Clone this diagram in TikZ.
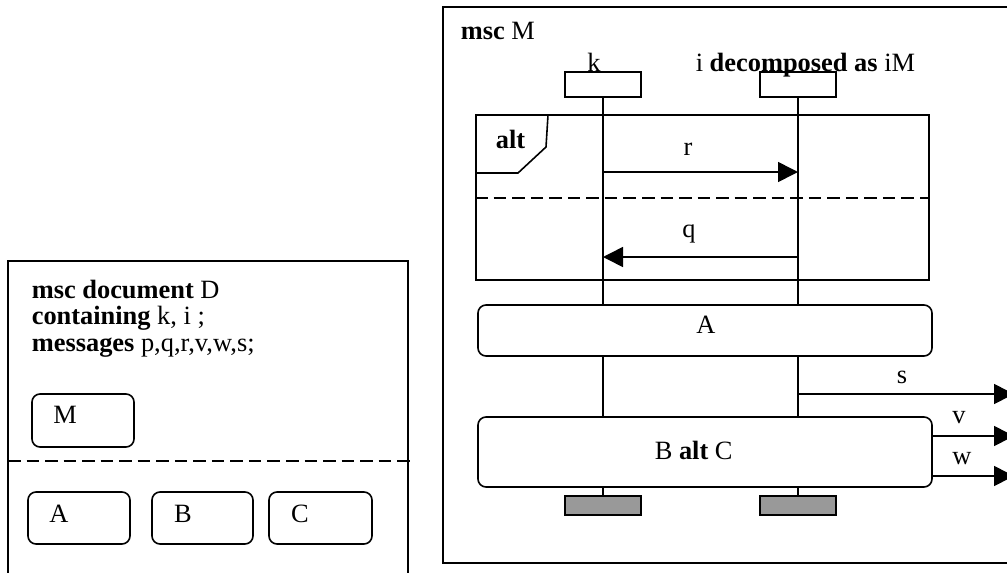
\documentclass[tikz,border=0pt]{standalone}
\usepackage{fontspec}
\setmainfont{Liberation Serif}
\usetikzlibrary{arrows.meta,fit}
\definecolor{endgray}{HTML}{999999}
\begin{document}
\begin{tikzpicture}[x=0.75pt,y=-0.75pt, line width=1.2pt,
  font=\fontsize{19.8}{19.9}\selectfont,
  box/.style={draw, rounded corners=6pt, inner sep=0pt, fill=white},
  plainbox/.style={draw, inner sep=0pt},
  endbox/.style={draw, fill=endgray, inner sep=0pt},
  lbl/.style={inner sep=0pt, anchor=base},
  lblw/.style={inner sep=0pt, anchor=base west},
  msg/.style={-{Triangle[length=15pt,width=15pt]}},
  sepline/.style={dash pattern=on 9.4pt off 4.5pt}]
\useasboundingbox (0,0) rectangle (1007,572);
\clip (0,0) rectangle (1007,572);

% ---------- left: msc document ----------
\draw (8,590) -- (8,261) -- (408,261) -- (408,590);
\draw[sepline] (8,461) -- (413,461);
\node[lblw] (t1) at (31,298) {\textbf{msc document} D};
\node[lblw] (t2) at (31,324.5) {\textbf{containing} k, i ;};
\node[lblw] (t3) at (31,351) {\textbf{messages} p,q,r,v,w,s;};

\node[box, fit={(32,394) (134,447)}] (dM) {};
\node[lbl] (dMt) at (65,423) {M};
\node[box, fit={(28,492) (130,544)}] (dA) {};
\node[lbl] (dAt) at (59,522) {A};
\node[box, fit={(152,492) (253,544)}] (dB) {};
\node[lbl] (dBt) at (183,522) {B};
\node[box, fit={(269,492) (372,544)}] (dC) {};
\node[lbl] (dCt) at (300,522) {C};

% ---------- right: msc M ----------
\node[plainbox, fit={(443,7) (1040,563)}] (frame) {};
\node[lblw] (mscM) at (460,39) {\textbf{msc} M};
\node[lbl] (kname) at (594,71) {k};
\node[lblw] (iname) at (695,71) {i \textbf{decomposed as} iM};

\node[plainbox, fit={(565,72) (641,97)}] (hk) {};
\node[plainbox, fit={(760,72) (836,97)}] (hi) {};
\node[endbox, fit={(565,496) (641,515)}] (ek) {};
\node[endbox, fit={(760,496) (836,515)}] (ei) {};

% lifelines
\draw (hk.south) -- (ek.north);
\draw (hi.south) -- (ei.north);

% alt inline expression
\node[plainbox, fit={(476,115) (929,280)}] (alt) {};
\draw (alt.west |- 0,173) -- (518,173) -- (546,147) -- (548,115);
\node[lblw] (altt) at (495,148) {\textbf{alt}};
\draw[sepline] (alt.west |- 0,198) -- (alt.east |- 0,198);

\coordinate (rk) at (603,172);
\coordinate (ri) at (798,172);
\draw[msg] (rk) -- (ri);
\node[lbl] (rl) at (688,155) {r};

\coordinate (qi) at (798,257);
\coordinate (qk) at (603,257);
\draw[msg] (qi) -- (qk);
\node[lbl] (ql) at (689,237) {q};

% references
\node[box, fit={(478,305) (932,356)}] (refA) {};
\node[lbl] (refAt) at (706,333) {A};

\coordinate (si) at (798,394);
\coordinate (se) at (1014,394);
\draw[msg] (si) -- (se);
\node[lbl] (sl) at (902,383) {s};

\node[box, fit={(478,417) (932,487)}] (refB) {};
\node[lblw] (refBt) at (654,459) {B \textbf{alt} C};

\coordinate (ve) at (1014,436);
\draw[msg] (refB.east |- ve) -- (ve);
\node[lbl] (vl) at (959,423) {v};

\coordinate (we) at (1014,476);
\draw[msg] (refB.east |- we) -- (we);
\node[lbl] (wl) at (962,464) {w};
\end{tikzpicture}
\end{document}
